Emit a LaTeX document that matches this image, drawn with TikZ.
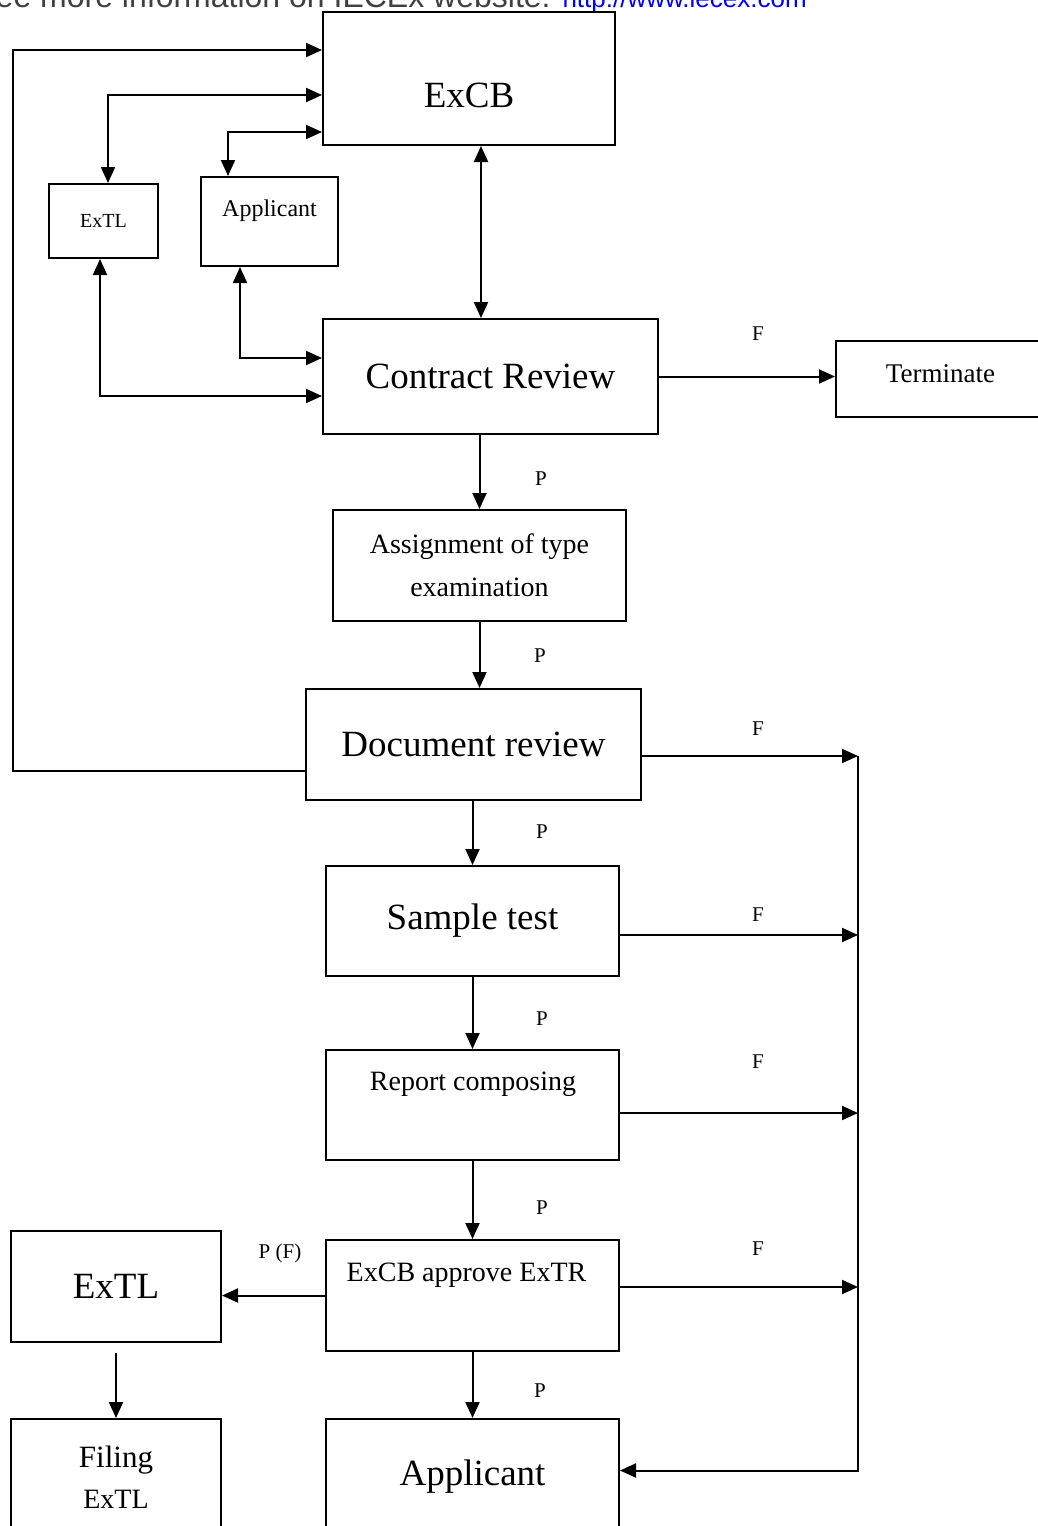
\documentclass[tikz,border=0pt]{standalone}
\usepackage{fontspec}
\setmainfont{Liberation Serif}
\newfontfamily\hdrfont{Liberation Sans}
\usetikzlibrary{arrows.meta,positioning}

\begin{document}
\begin{tikzpicture}[x=0.5pt,y=-0.5pt,
    box/.style={draw, line width=1pt, inner sep=0pt, align=center},
    big/.style={font=\fontsize{18.5}{22}\selectfont},
    mid/.style={font=\fontsize{14}{21.5}\selectfont},
    lbl/.style={font=\fontsize{10.5}{12}\selectfont},
    arr/.style={line width=1pt, -{Triangle[length=8pt,width=7pt]}},
    dbl/.style={line width=1pt, {Triangle[length=8pt,width=7pt]}-{Triangle[length=8pt,width=7pt]}}]
                \useasboundingbox (0,0) rectangle (1038,1526);
                \node[anchor=base west, inner sep=0pt, text=black!75, font=\hdrfont\fontsize{16}{18}\selectfont] (hdr) at (-26,7) {See more information on IECEx website: {\color{blue}\fontsize{13}{15}\selectfont http://www.iecex.com}};
                % boxes
                \node[box, minimum width=146pt, minimum height=66.5pt] (excb) at (469,78.5) {};
                \node[big] (excbt) at (469,95) {ExCB};
                \node[box, font=\fontsize{10}{12}\selectfont, minimum width=54.5pt, minimum height=37pt] (extls) at (103.5,221) {ExTL};
                \node[box, minimum width=68.5pt, minimum height=44.5pt] (apps) at (269.5,221.5) {};
                \node[font=\fontsize{12}{14}\selectfont] (appst) at (269.5,211) {Applicant};
                \node[box, big, minimum width=167.5pt, minimum height=57.5pt] (cr) at (490.5,376.5) {Contract Review};
                \node[box, minimum width=112pt, minimum height=38pt] (term) at (948,379) {};
                \node[font=\fontsize{13.5}{16}\selectfont] (termt) at (940.5,374) {Terminate};
                \node[box, mid, minimum width=146.5pt, minimum height=55.5pt] (asg) at (479.5,565.5) {Assignment of type\\examination};
                \node[box, big, minimum width=167.5pt, minimum height=55.5pt] (doc) at (473.5,744.5) {Document review};
                \node[box, big, minimum width=146.5pt, minimum height=55pt] (smp) at (472.5,921) {Sample test};
                \node[box, minimum width=146.5pt, minimum height=55pt] (rep) at (472.5,1105) {};
                \node[mid] (rept) at (473,1084) {Report composing};
                \node[box, minimum width=146.5pt, minimum height=55.5pt] (apv) at (472.5,1295.5) {};
                \node[mid] (apvt) at (466.5,1275) {ExCB approve ExTR};
                \node[box, big, minimum width=105pt, minimum height=55.5pt] (extlb) at (116,1286.5) {ExTL};
                \node[box, font=\fontsize{15.5}{20.5}\selectfont, minimum width=105pt, minimum height=58pt] (fil) at (116,1477) {Filing\\{\fontsize{14}{20.5}\selectfont ExTL}};
                \node[box, big, minimum width=146.5pt, minimum height=58pt] (appb) at (472.5,1477) {Applicant};
                % labels
                \node[lbl] (f1) at (758,334) {F};
                \node[lbl] (p1) at (541,479) {P};
                \node[lbl] (p2) at (540,656) {P};
                \node[lbl] (f2) at (758,729) {F};
                \node[lbl] (p3) at (542,832) {P};
                \node[lbl] (f3) at (758,915) {F};
                \node[lbl] (p4) at (542,1019) {P};
                \node[lbl] (f4) at (758,1062) {F};
                \node[lbl] (p5) at (542,1208) {P};
                \node[lbl] (f5) at (758,1249) {F};
                \node[lbl] (pf) at (280,1253) {P (F)};
                \node[lbl] (p6) at (540,1391) {P};
                % connectors
                \coordinate (excbs) at ([xshift=6pt]excb.south);
                \coordinate (docf) at ([yshift=-5.75pt]doc.east);
                \coordinate (smpf) at ([yshift=-7pt]smp.east);
                \coordinate (repf) at ([yshift=-4pt]rep.east);
                \coordinate (apvf) at ([yshift=4.25pt]apv.east);
                \coordinate (appf) at ([yshift=3.25pt]appb.east);
                \coordinate (bus) at (858,756);
                \draw[arr] ([yshift=-13.25pt]doc.west) -- ++(-292,0) |- ([yshift=14.25pt]excb.west);
                \draw[dbl] ([yshift=-8.25pt]excb.west) -| ([xshift=2.25pt]extls.north);
                \draw[dbl] ([yshift=-26.75pt]excb.west) -| ([xshift=-20.75pt]apps.north);
                \draw[dbl] (excbs) -- (excbs |- cr.north);
                \draw[dbl] ([xshift=-14.75pt]apps.south) |- ([yshift=9.25pt]cr.west);
                \draw[dbl] ([xshift=-1.75pt]extls.south) |- ([yshift=-9.75pt]cr.west);
                \draw[arr] (cr.east) -- (cr.east -| term.west);
                \draw[arr] (asg.north |- cr.south) -- (asg.north);
                \draw[arr] (asg.south) -- (asg.south |- doc.north);
                \draw[arr] (smp.north |- doc.south) -- (smp.north);
                \draw[arr] (smp.south) -- (rep.north);
                \draw[arr] (rep.south) -- (apv.north);
                \draw[arr] (apv.south) -- (appb.north);
                \draw[arr] (apv.west) -- (apv.west -| extlb.east);
                \draw[arr] ([yshift=-5pt]extlb.south) -- (fil.north);
                \draw[arr] (docf) -- (bus);
                \draw[arr] (smpf) -- (smpf -| bus);
                \draw[arr] (repf) -- (repf -| bus);
                \draw[arr] (apvf) -- (apvf -| bus);
                \draw[arr] (bus) |- (appf);
            \end{tikzpicture}
\end{document}
